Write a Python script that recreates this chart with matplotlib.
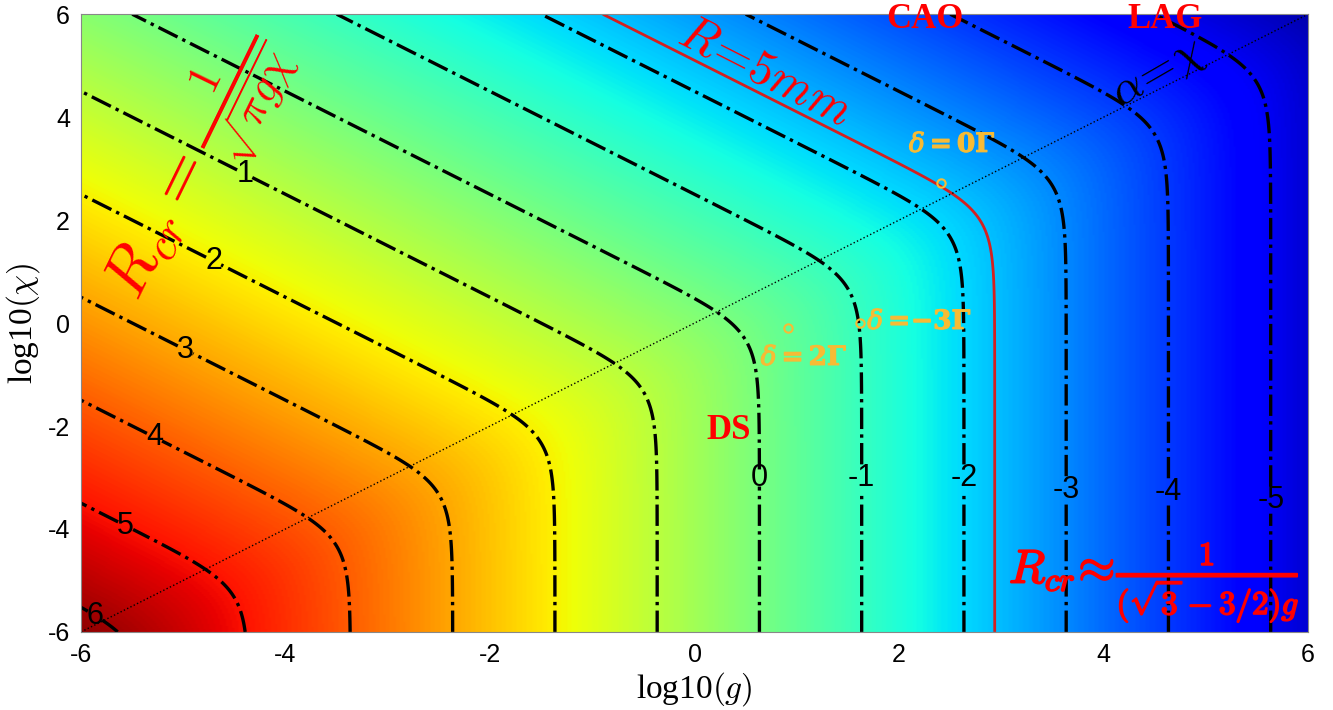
import numpy as np
import matplotlib
matplotlib.use("Agg")
import matplotlib.pyplot as plt
import matplotlib.patheffects as pe

plt.rcParams['mathtext.fontset'] = 'cm'
plt.rcParams['axes.unicode_minus'] = False
plt.rcParams['font.family'] = ['Liberation Sans', 'DejaVu Sans']

# axis ranges (log10 of g and chi)
log_g = np.linspace(-6, 6, 601)
log_chi = np.linspace(-6, 6, 601)

# coefficients
C_DIAG = 1.78                       # R ~ C_DIAG / sqrt(g*chi)
C_VERT = 1.0 / (np.sqrt(3) - 1.5)   # R ~ C_VERT / g

# contour levels (log10 R_cr) and their label positions
levels = [-5, -4, -3, -2, -1, 0, 1, 2, 3, 4, 5, 6]
label_pos = [(5.65, -3.44), (4.67, -3.28), (3.67, -3.24), (2.65, -3.01),
             (1.64, -3.01), (0.66, -3.01), (-4.42, 2.82), (-4.71, 1.18),
             (-4.98, -0.52), (-5.28, -2.21), (-5.57, -3.96), (-5.89, -5.77)]
r_5mm = np.log10(0.005)

# detuning markers
delta_g = [2.41, 0.91, 1.62]
delta_chi = [2.72, -0.10, 0.00]
delta_text = [r'$\delta\mathbf{=0\Gamma}$', r'$\delta\mathbf{=2\Gamma}$',
              r'$\delta\mathbf{=}\!\mathbf{{-}3\Gamma}$']
delta_text_pos = [(2.52, 3.46), (1.07, -0.68), (2.20, 0.02)]

G, X = np.meshgrid(log_g, log_chi)
g = 10.0 ** G
chi = 10.0 ** X
r_diag = C_DIAG / np.sqrt(g * chi)
r_vert = C_VERT / g
R = np.log10(1.0 / np.sqrt(r_diag ** -2 + r_vert ** -2))

fig = plt.figure(figsize=(13.33, 7.10), dpi=100)
ax = fig.add_axes([0.0608, 0.110, 0.9205, 0.870])

ax.imshow(R, extent=(-6, 6, -6, 6), origin='lower', cmap='jet',
          vmin=-6.3, vmax=6.4, aspect='auto', interpolation='bilinear')

cs = ax.contour(G, X, R, levels=levels, colors='k', linestyles='-.',
                linewidths=2.4)
lbls = ax.clabel(cs, inline=True, inline_spacing=0, fontsize=22, fmt='%d',
                 manual=label_pos)
for t in lbls:
    t.set_rotation(0)

ax.contour(G, X, R, levels=[r_5mm], colors='#d42020', linewidths=2.0,
           linestyles='solid')

ax.plot([-6, 6], [-6, 6], color='k', linestyle=':', linewidth=1.0)

orange = '#f7bb35'
ax.plot(delta_g, delta_chi, 'o', mfc='none', mec=orange, ms=6, mew=1.5)
for (tx, ty), s in zip(delta_text_pos, delta_text):
    ax.text(tx, ty, s, color=orange, fontsize=19, ha='center', va='center',
            math_fontfamily='dejavuserif',
            path_effects=[pe.withStroke(linewidth=0.8, foreground=orange)])

red = '#ff0000'
ax.text(-4.85, 3.0, r'$R_{cr}=\frac{1}{\sqrt{\pi g\chi}}$', color=red,
        fontsize=47, rotation=64, ha='center', va='center')
ax.text(4.5, -5.07, r'$R_{cr}\!\approx\!\frac{1}{(\sqrt{3}-3/2)g}$', color=red,
        fontsize=34, ha='center', va='center',
        path_effects=[pe.withStroke(linewidth=1.3, foreground=red)])
ax.text(0.69, 4.87, r'$R\!=\!5mm$', color=red, fontsize=35, rotation=-27,
        ha='center', va='center')
ax.text(4.53, 4.85, r'$\alpha\!=\!\chi$', color='k', fontsize=34, rotation=30,
        ha='center', va='center')
for tx, ty, s in [(2.25, 5.9, 'CAO'), (4.6, 5.9, 'LAG'), (0.33, -2.08, 'DS')]:
    ax.text(tx, ty, s, color=red, fontsize=25, fontweight='bold',
            family='Liberation Serif', ha='center', va='center')

ax.set_xlim(-6, 6)
ax.set_ylim(-6, 6)
ax.set_xticks(range(-6, 7, 2))
ax.set_yticks(range(-6, 7, 2))
ax.tick_params(direction='in', length=0, labelsize=18, pad=8)
ax.set_xlabel(r'log10$(g)$', family='Liberation Serif', fontsize=24,
              labelpad=2)
ax.set_ylabel(r'log10$(\chi)$', family='Liberation Serif', fontsize=24,
              labelpad=4)
for sp in ax.spines.values():
    sp.set_color('#888888')
    sp.set_linewidth(0.8)

fig.savefig('out.png', dpi=100)
